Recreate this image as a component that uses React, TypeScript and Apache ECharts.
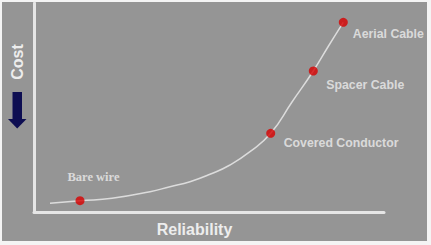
import React, { useEffect, useRef } from "react";
import * as echarts from "echarts";

// Curve (reliability, cost) in arbitrary axis units
const curveX = [16, 46, 78, 116, 136, 156, 176, 196, 216, 236.7, 258, 279.3, 294.5, 309.3];
const curveY = [8.7, 11.3, 13.7, 20.3, 25.3, 30.3, 37.7, 47, 60.3, 78.7, 110, 141, 166, 189.7];

// Marked options
const optionNames = ["Bare wire", "Covered Conductor", "Spacer Cable", "Aerial Cable"];
const optionX = [46, 236.7, 279.3, 309.3];
const optionY = [11.3, 78.7, 141, 189.7];

const xLabel = "Reliability";
const yLabel = "Cost";

export default function App() {
  const ref = useRef<HTMLDivElement>(null);
  useEffect(() => {
    document.body.style.margin = "0";
    const chart = echarts.init(ref.current!, null, { renderer: "svg" });
    const textColor = "#ededed";
    const labelOffsets: Record<string, number[]> = {
      "Bare wire": [-22, -24],
      "Covered Conductor": [3.5, 10],
      "Spacer Cable": [3.5, 14],
      "Aerial Cable": [0, 12],
    };
    chart.setOption({
      animation: false,
      backgroundColor: "#f4f4f4",
      grid: { left: 34, right: 47, top: 3, bottom: 33 },
      xAxis: {
        type: "value",
        min: 0,
        max: 350,
        axisLine: { show: true, lineStyle: { color: "#e6e6e6", width: 3 } },
        axisTick: { show: false },
        axisLabel: { show: false },
        splitLine: { show: false },
      },
      yAxis: {
        type: "value",
        min: 0,
        max: 209,
        axisLine: { show: true, lineStyle: { color: "#e6e6e6", width: 3 } },
        axisTick: { show: false },
        axisLabel: { show: false },
        splitLine: { show: false },
      },
      graphic: [
        {
          type: "rect",
          z: -10,
          shape: { x: 2, y: 2, width: 425, height: 239 },
          style: { fill: "#959595" },
        },
        {
          type: "text",
          x: 17,
          y: 62,
          rotation: Math.PI / 2,
          style: {
            text: yLabel,
            fill: textColor,
            font: "bold 16px 'Liberation Sans', Arial, sans-serif",
            textAlign: "center",
            textVerticalAlign: "middle",
          },
        },
        {
          type: "text",
          x: 194.5,
          y: 229,
          style: {
            text: xLabel,
            fill: textColor,
            font: "bold 16px 'Liberation Sans', Arial, sans-serif",
            textAlign: "center",
            textVerticalAlign: "middle",
          },
        },
        {
          type: "rect",
          shape: { x: 12.5, y: 92, width: 9.5, height: 28 },
          style: { fill: "#0e0e52" },
        },
        {
          type: "polygon",
          shape: { points: [[8, 119], [26.5, 119], [17.2, 128.5]] },
          style: { fill: "#0e0e52" },
        },
      ],
      series: [
        {
          type: "line",
          data: curveX.map((x, i) => [x, curveY[i]]),
          smooth: 0.5,
          showSymbol: false,
          lineStyle: { color: "#dcdcdc", width: 1.5 },
          z: 2,
        },
        {
          type: "scatter",
          symbolSize: 9,
          itemStyle: { color: "#d80000" },
          z: 3,
          data: optionNames.map((name, i) => ({
            name,
            value: [optionX[i], optionY[i]],
            label: {
              show: true,
              position: "right",
              offset: labelOffsets[name],
              formatter: name,
              color: textColor,
              fontWeight: "bold",
              fontSize: name === "Bare wire" ? 12.5 : 12.3,
              fontFamily:
                name === "Bare wire"
                  ? "'Liberation Serif', 'Times New Roman', serif"
                  : "'Liberation Sans', Arial, sans-serif",
            },
          })),
        },
      ],
    });
    return () => chart.dispose();
  }, []);
  return <div ref={ref} style={{ width: 431, height: 245 }} />;
}
